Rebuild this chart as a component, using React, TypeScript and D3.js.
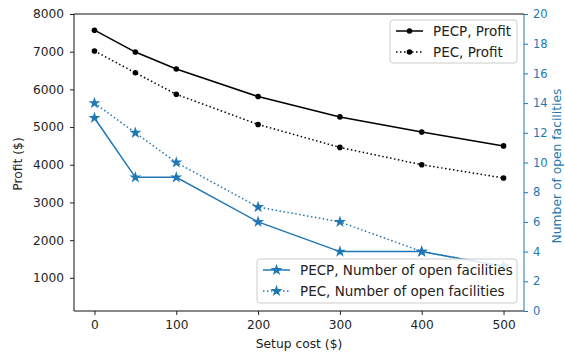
import React, { useEffect, useRef } from 'react';
import * as d3 from 'd3';

const setupCost = [0, 50, 100, 200, 300, 400, 500];
const pecpProfit = [7570, 6990, 6540, 5810, 5270, 4870, 4500];
const pecProfit = [7020, 6440, 5870, 5070, 4460, 4000, 3650];
const pecpFacilities = [13, 9, 9, 6, 4, 4, 3];
const pecFacilities = [14, 12, 10, 7, 6, 4, 3];
const xTicks = [0, 100, 200, 300, 400, 500];
const profitTicks = [1000, 2000, 3000, 4000, 5000, 6000, 7000, 8000];
const facilityTicks = [0, 2, 4, 6, 8, 10, 12, 14, 16, 18, 20];

const W = 565;
const H = 358;
const margin = { top: 14, right: 41, bottom: 47, left: 74 };
const BLUE = '#1f77b4';
const FONT = 'DejaVu Sans, sans-serif';
const TICK_FS = 12.2;
const AXIS_FS = 12.3;
const LEGEND_FS = 13.5;

export default function App() {
	const ref = useRef<SVGSVGElement>(null);

	useEffect(() => {
		const svg = d3.select(ref.current);
		svg.selectAll('*').remove();
		svg.style('font-family', FONT);

		const x = d3.scaleLinear().domain([-25, 525]).range([margin.left, W - margin.right]);
		const yL = d3.scaleLinear().domain([120, 8000]).range([H - margin.bottom, margin.top]);
		const yR = d3.scaleLinear().domain([0, 20]).range([H - margin.bottom, margin.top]);

		const g = svg.append('g');

		const profitLine = (vals: number[]) =>
			d3.line<number>().x((_, i) => x(setupCost[i])).y(d => yL(d))(vals);
		const facLine = (vals: number[]) =>
			d3.line<number>().x((_, i) => x(setupCost[i])).y(d => yR(d))(vals);

		const star = d3.symbol().type(d3.symbolStar).size(45);
		const DOT = '1.5,2.5';

		// facilities series (drawn first, sits under profit)
		const facSeries = [
			{ vals: pecpFacilities, dash: null },
			{ vals: pecFacilities, dash: DOT },
		];
		facSeries.forEach(s => {
			g.append('path')
				.attr('d', facLine(s.vals))
				.attr('fill', 'none')
				.attr('stroke', BLUE)
				.attr('stroke-width', 1.5)
				.attr('stroke-dasharray', s.dash);
			g.selectAll(null)
				.data(s.vals)
				.enter()
				.append('path')
				.attr('d', star)
				.attr('transform', (d, i) => `translate(${x(setupCost[i])},${yR(d)})`)
				.attr('fill', BLUE);
		});

		const profSeries = [
			{ vals: pecpProfit, dash: null },
			{ vals: pecProfit, dash: DOT },
		];
		profSeries.forEach(s => {
			g.append('path')
				.attr('d', profitLine(s.vals))
				.attr('fill', 'none')
				.attr('stroke', 'black')
				.attr('stroke-width', 1.5)
				.attr('stroke-dasharray', s.dash);
			g.selectAll(null)
				.data(s.vals)
				.enter()
				.append('circle')
				.attr('cx', (d, i) => x(setupCost[i]))
				.attr('cy', d => yL(d))
				.attr('r', 2.8)
				.attr('fill', 'black');
		});

		// axes
		const fmt = d3.format('d');
		const xAxis = svg
			.append('g')
			.attr('transform', `translate(0,${H - margin.bottom})`)
			.call(d3.axisBottom(x).tickValues(xTicks).tickFormat(fmt).tickSize(4).tickPadding(5));
		const lAxis = svg
			.append('g')
			.attr('transform', `translate(${margin.left},0)`)
			.call(d3.axisLeft(yL).tickValues(profitTicks).tickFormat(fmt).tickSize(4).tickPadding(6));
		const rAxis = svg
			.append('g')
			.attr('transform', `translate(${W - margin.right},0)`)
			.call(d3.axisRight(yR).tickValues(facilityTicks).tickFormat(fmt).tickSize(4).tickPadding(5));

		[xAxis, lAxis, rAxis].forEach(a => {
			a.selectAll('text').attr('font-size', TICK_FS).attr('font-family', FONT).attr('fill', '#222');
			a.select('.domain').remove();
			a.selectAll('line').attr('stroke', '#222');
		});
		rAxis.selectAll('text').attr('fill', BLUE).attr('font-size', 11.5);
		rAxis.selectAll('line').attr('stroke', BLUE);

		// spines
		const sp = svg.append('g').attr('stroke-width', 1).attr('fill', 'none');
		sp.append('line')
			.attr('x1', margin.left).attr('x2', W - margin.right)
			.attr('y1', margin.top).attr('y2', margin.top).attr('stroke', '#111');
		sp.append('line')
			.attr('x1', margin.left).attr('x2', W - margin.right)
			.attr('y1', H - margin.bottom).attr('y2', H - margin.bottom).attr('stroke', '#111');
		sp.append('line')
			.attr('x1', margin.left).attr('x2', margin.left)
			.attr('y1', margin.top).attr('y2', H - margin.bottom).attr('stroke', '#111');
		sp.append('line')
			.attr('x1', W - margin.right).attr('x2', W - margin.right)
			.attr('y1', margin.top).attr('y2', H - margin.bottom).attr('stroke', BLUE);

		// axis labels
		svg.append('text')
			.attr('x', (margin.left + W - margin.right) / 2)
			.attr('y', H - 10)
			.attr('text-anchor', 'middle')
			.attr('font-size', AXIS_FS)
			.attr('fill', '#222')
			.text('Setup cost ($)');
		svg.append('text')
			.attr('transform', `translate(22,164) rotate(-90)`)
			.attr('text-anchor', 'middle')
			.attr('font-size', AXIS_FS)
			.attr('fill', '#222')
			.text('Profit ($)');
		svg.append('text')
			.attr('transform', `translate(${W - 4},166) rotate(-90)`)
			.attr('text-anchor', 'middle')
			.attr('font-size', AXIS_FS)
			.attr('fill', BLUE)
			.text('Number of open facilities');

		// legends
		const legend = (
			x0: number, y0: number, w: number, h: number,
			items: { label: string; color: string; dash: string | null; marker: string }[]
		) => {
			const lg = svg.append('g').attr('transform', `translate(${x0},${y0})`);
			lg.append('rect')
				.attr('width', w).attr('height', h).attr('rx', 3)
				.attr('fill', 'white').attr('fill-opacity', 0.85)
				.attr('stroke', '#ccc');
			items.forEach((it, i) => {
				const cy = 11 + i * 21;
				lg.append('line')
					.attr('x1', 6).attr('x2', 33).attr('y1', cy).attr('y2', cy)
					.attr('stroke', it.color).attr('stroke-width', 1.5)
					.attr('stroke-dasharray', it.dash);
				if (it.marker === 'circle') {
					lg.append('circle').attr('cx', 19.5).attr('cy', cy).attr('r', 2.8).attr('fill', it.color);
				} else {
					lg.append('path').attr('d', star).attr('transform', `translate(19.5,${cy})`).attr('fill', it.color);
				}
				lg.append('text')
					.attr('x', 43).attr('y', cy + 5)
					.attr('font-size', LEGEND_FS).attr('fill', '#222')
					.text(it.label);
			});
		};
		legend(390, 20, 127, 43, [
			{ label: 'PECP, Profit', color: 'black', dash: null, marker: 'circle' },
			{ label: 'PEC, Profit', color: 'black', dash: DOT, marker: 'circle' },
		]);
		legend(257, 259, 260, 44, [
			{ label: 'PECP, Number of open facilities', color: BLUE, dash: null, marker: 'star' },
			{ label: 'PEC, Number of open facilities', color: BLUE, dash: DOT, marker: 'star' },
		]);
	}, []);

	return (
		<svg
			ref={ref}
			width={W}
			height={H}
			style={{ display: 'block', position: 'absolute', left: 0, top: 0 }}
		/>
	);
}
